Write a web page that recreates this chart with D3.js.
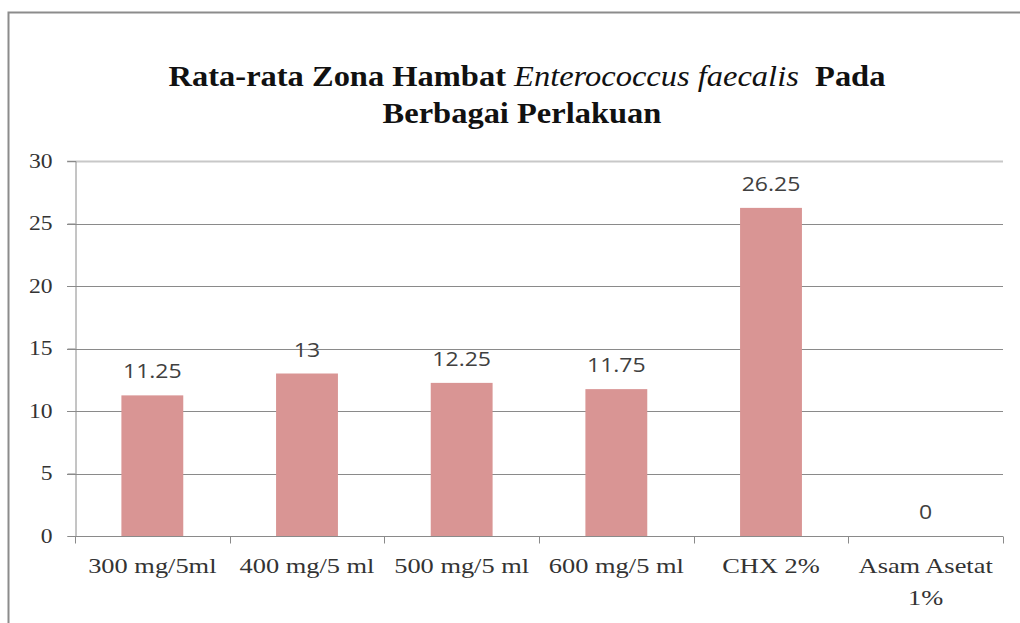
<!DOCTYPE html>
<html>
<head>
<meta charset="utf-8">
<script src="https://cdn.jsdelivr.net/npm/d3@7"></script>
<style>
  html, body { margin: 0; padding: 0; background: #fff; }
  svg { display: block; }
  .serif { font-family: 'Liberation Serif', 'Times New Roman', serif; }
  .sans { font-family: 'Open Sans', 'Liberation Sans', sans-serif; }
</style>
</head>
<body>
<svg id="chart" width="1020" height="623"></svg>
<script>
const categories = ["300 mg/5ml", "400 mg/5 ml", "500 mg/5 ml", "600 mg/5 ml", "CHX 2%", "Asam Asetat\n1%"];
const values = [11.25, 13, 12.25, 11.75, 26.25, 0];
const valueLabels = ["11.25", "13", "12.25", "11.75", "26.25", "0"];
const yTicks = [0, 5, 10, 15, 20, 25, 30];

const W = 1020, H = 623;
const margin = { left: 75, right: 17, top: 161, bottom: 87 };
const svg = d3.select("#chart");
const stretch = 1.18;

function stretchText(sel, k) {
  sel.each(function () {
    const len = this.getComputedTextLength();
    if (len > 0) {
      this.setAttribute("textLength", len * k);
      this.setAttribute("lengthAdjust", "spacingAndGlyphs");
    }
  });
}

// outer frame
svg.append("rect")
  .attr("x", 8.5).attr("y", 12.5)
  .attr("width", W + 20).attr("height", H + 20)
  .attr("fill", "none").attr("stroke", "#8c8c8c").attr("stroke-width", 2);

const x = d3.scaleBand().domain(categories).range([margin.left, W - margin.right]).paddingInner(0).paddingOuter(0);
const y = d3.scaleLinear().domain([0, 30]).range([H - margin.bottom, margin.top]);

// gridlines
svg.append("g").selectAll("line").data(yTicks.filter(d => d > 0)).join("line")
  .attr("x1", margin.left - 8).attr("x2", W - margin.right)
  .attr("y1", d => Math.round(y(d)) + 0.5).attr("y2", d => Math.round(y(d)) + 0.5)
  .attr("stroke", d => d === 30 ? "#c8c8c8" : "#8a8a8a").attr("stroke-width", d => d === 30 ? 2 : 1);

// y axis
const yAxis = svg.append("g").attr("transform", `translate(${margin.left + 0.5},0)`)
  .call(d3.axisLeft(y).tickValues(yTicks).tickSize(8).tickPadding(15))
  .attr("font-family", null).attr("font-size", null);
yAxis.select(".domain").attr("stroke", "#8a8a8a");
yAxis.selectAll(".tick line").attr("stroke", "#8a8a8a");
const yLabs = yAxis.selectAll(".tick text")
  .attr("class", "serif")
  .style("font-size", "20px").attr("fill", "#333");
yLabs.attr("text-anchor", "start").attr("x", -23 - 0).each(function () {
  const len = this.getComputedTextLength() * stretch;
  this.setAttribute("x", -23 - len);
});
stretchText(yLabs, stretch);

// bars
const barW = x.bandwidth() * 0.4;
svg.append("g").selectAll("rect").data(values).join("rect")
  .attr("x", (d, i) => x(categories[i]) + (x.bandwidth() - barW) / 2)
  .attr("width", barW)
  .attr("y", d => y(d))
  .attr("height", d => y(0) - y(d))
  .attr("fill", "#d99594");

// x axis
const xAxis = svg.append("g").attr("transform", `translate(0,${Math.round(y(0)) + 0.5})`);
xAxis.append("line").attr("x1", margin.left).attr("x2", W - margin.right)
  .attr("stroke", "#8a8a8a");
const bounds = categories.map(c => x(c)).concat([W - margin.right]);
xAxis.selectAll(".xt").data(bounds).join("line").attr("class", "xt")
  .attr("x1", d => Math.round(d) + 0.5).attr("x2", d => Math.round(d) + 0.5)
  .attr("y1", 0).attr("y2", 7).attr("stroke", "#8a8a8a");

// category labels
const catG = svg.append("g");
categories.forEach((c, i) => {
  const lines = c.split("\n");
  lines.forEach((l, j) => {
    catG.append("text").attr("class", "serif")
      .attr("x", x(c) + x.bandwidth() / 2)
      .attr("y", y(0) + 37 + j * 32)
      .attr("text-anchor", "middle")
      .style("font-size", "22px").attr("fill", "#333")
      .text(l);
  });
});
stretchText(catG.selectAll("text"), 1.2);

// value labels
const vl = svg.append("g").selectAll("text").data(values).join("text")
  .attr("class", "sans")
  .attr("x", (d, i) => x(categories[i]) + x.bandwidth() / 2)
  .attr("y", d => y(d) - 17)
  .attr("text-anchor", "middle")
  .style("font-size", "20px").attr("fill", "#404040")
  .text((d, i) => valueLabels[i]);
stretchText(vl, 1.15);

// title
const title = svg.append("text").attr("text-anchor", "middle").attr("class", "serif")
  .style("font-size", "29px").attr("fill", "#111");
const l1 = title.append("tspan").attr("x", 527).attr("y", 86);
l1.append("tspan").style("font-weight", "bold").text("Rata-rata Zona Hambat ");
l1.append("tspan").style("font-style", "italic").text("Enterococcus faecalis");
l1.append("tspan").style("font-weight", "bold").attr("xml:space", "preserve").text("  Pada");
const l2 = title.append("tspan").attr("x", 522).attr("dy", 37).style("font-weight", "bold").text("Berbagai Perlakuan");
// stretch title lines to reference width
const tNode = title.node();
const l1len = tNode.getSubStringLength(0, l1.text().length);
l1.attr("textLength", l1len * 1.12).attr("lengthAdjust", "spacingAndGlyphs");
const l2len = l2.node().getComputedTextLength();
l2.attr("textLength", l2len * 1.12).attr("lengthAdjust", "spacingAndGlyphs");
</script>
</body>
</html>
